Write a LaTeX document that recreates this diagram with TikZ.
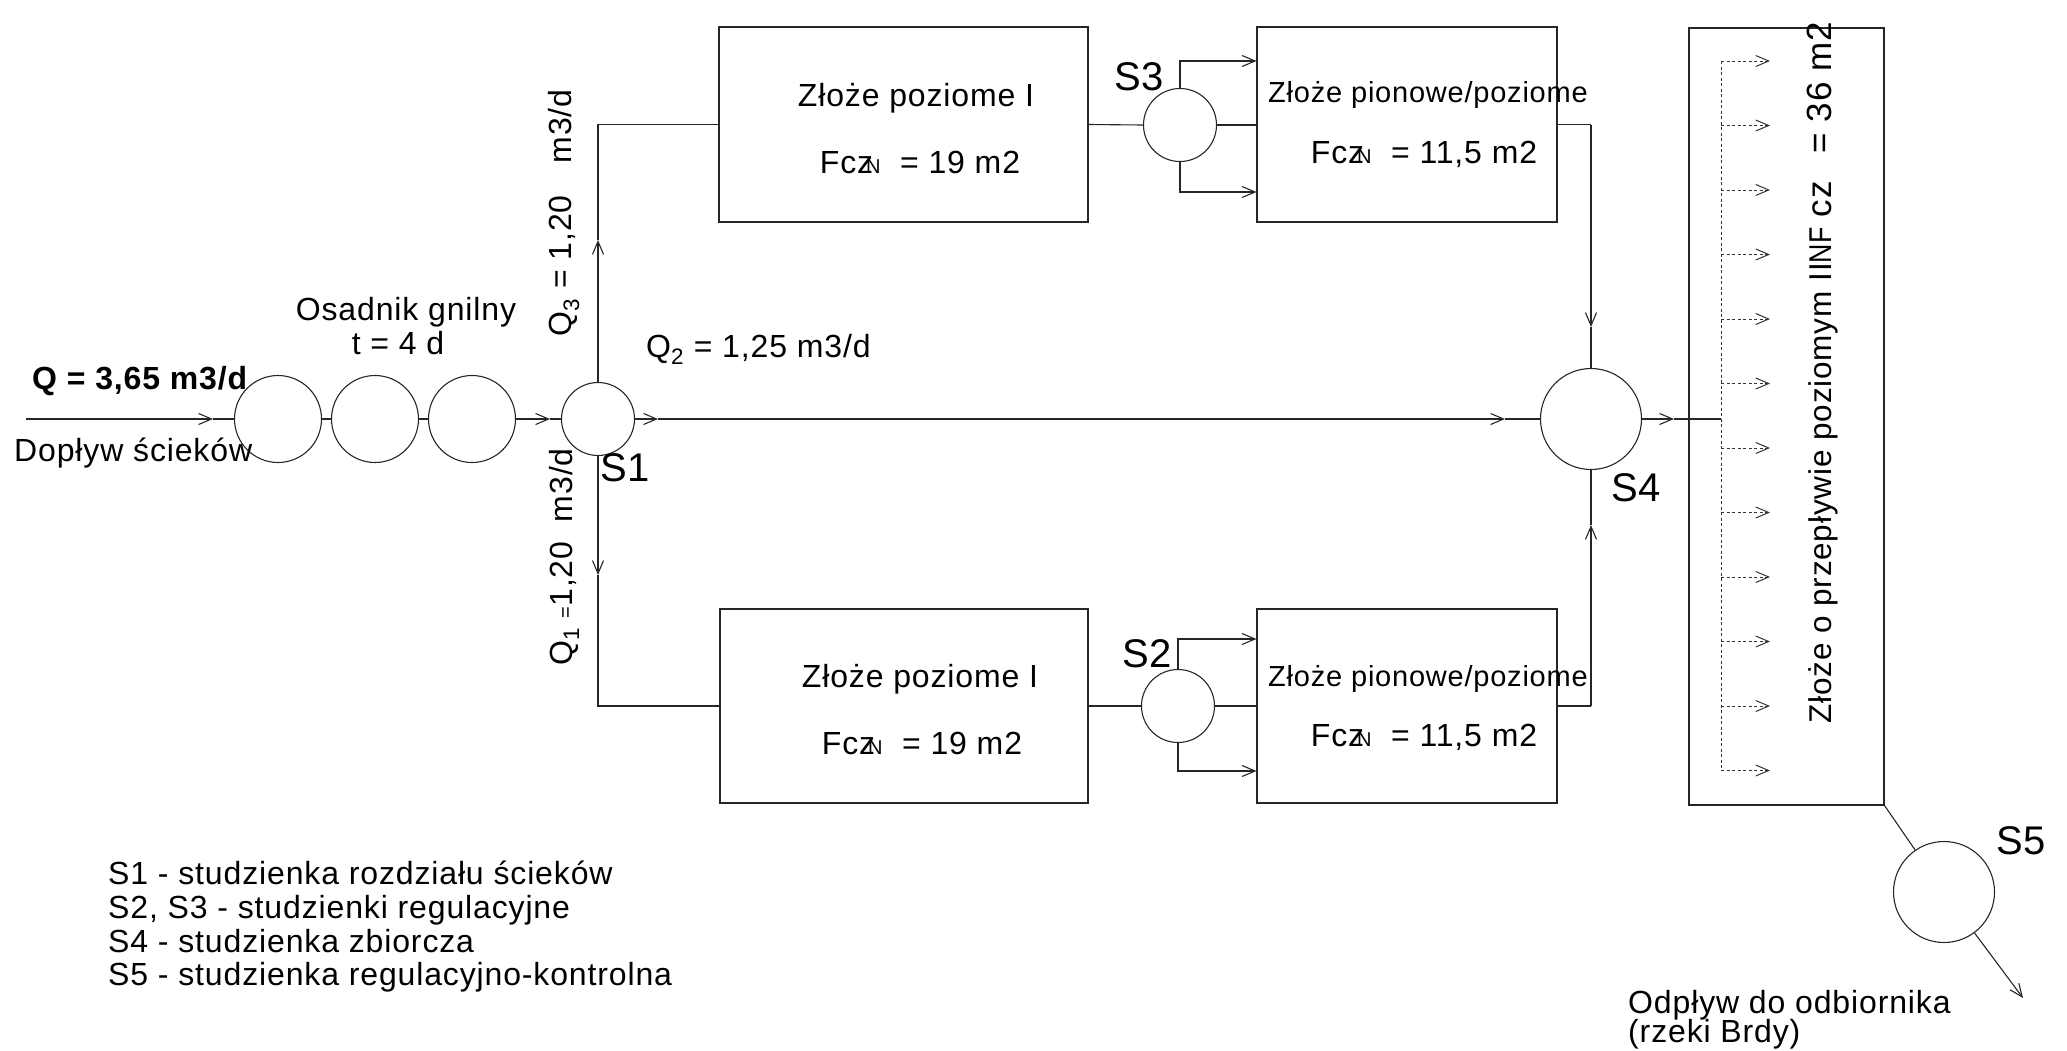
\documentclass[tikz,border=0pt]{standalone}
\usepackage{fontspec}
\usepackage{graphicx}
\setmainfont{Liberation Sans}[LetterSpace=2.7]
\usetikzlibrary{arrows.meta}
\newcommand\fczn{Fcz\hspace{-0.22em}{\fontsize{20}{20}\selectfont N}}
\begin{document}
\begin{tikzpicture}[x=1pt,y=-1pt,
  ln/.style={line width=1.1pt, draw=black!85},
  arr/.style={ln, -{Straight Barb[length=13pt,width=11pt,line width=1.1pt]}},
  dot/.style={line width=1pt, draw=black!80, dash pattern=on 3pt off 2.5pt},
  darr/.style={dot, -{Straight Barb[length=13pt,width=11pt,line width=1pt]}},
  tank/.style={circle, draw=black!85, line width=1.1pt, inner sep=0pt},
  box/.style={rectangle, draw=black!85, line width=1.1pt, inner sep=0pt},
  txt/.style={font=\fontsize{32}{34}\selectfont, inner sep=0pt},
  txtb/.style={font=\fontsize{29}{34}\selectfont, inner sep=0pt},
  txtv/.style={font=\fontsize{31.5}{34}\selectfont, inner sep=0pt},
  lab/.style={font=\fontsize{40}{40}\selectfont, inner sep=0pt}
]
\useasboundingbox (0,0) rectangle (2067,1050);

% wells and tanks
\node[tank, minimum size=87pt] (c1) at (278,419) {};
\node[tank, minimum size=87pt] (c2) at (375,419) {};
\node[tank, minimum size=87pt] (c3) at (472,419) {};
\node[tank, minimum size=73pt] (s1) at (598,419) {};
\node[tank, minimum size=73pt] (s3) at (1180,125) {};
\node[tank, minimum size=73pt] (s2) at (1178,706) {};
\node[tank, minimum size=101pt] (s4) at (1591,419) {};
\node[tank, minimum size=101pt] (s5) at (1944,892) {};

% beds
\node[box, minimum width=369pt, minimum height=195pt] (b1) at (903.5,124.5) {};
\node[box, minimum width=368pt, minimum height=194pt] (b2) at (904,706) {};
\node[box, minimum width=300pt, minimum height=195pt] (b3) at (1407,124.5) {};
\node[box, minimum width=300pt, minimum height=194pt] (b4) at (1407,706) {};
\node[box, minimum width=195pt, minimum height=777pt] (big) at (1786.5,416.5) {};

% inflow
\coordinate (in0) at (26,419);
\coordinate (inA) at (213,419);
\draw[arr] (in0) -- (inA);
\draw[ln] (inA) -- (c1);
\draw[ln] (c1) -- (c2);
\draw[ln] (c2) -- (c3);
\coordinate (a1) at (550,419);
\draw[arr] (c3) -- (a1);
\draw[ln] (a1) -- (s1);

% upper branch
\coordinate (u1) at (598,240);
\coordinate (u2) at (598,124.5);
\draw[arr] (s1) -- (u1);
\draw[ln] (u1) -- (u2) -- (b1.west);
% lower branch
\coordinate (d1) at (598,575);
\coordinate (d2) at (598,706);
\draw[arr] (s1) -- (d1);
\draw[ln] (d1) -- (d2) -- (b2.west);

% middle
\coordinate (m1) at (658,419);
\coordinate (m2) at (1505,419);
\draw[arr] (s1) -- (m1);
\draw[arr] (m1) -- (m2);
\draw[ln] (m2) -- (s4);

% S3 regulation
\draw[ln] (b1.east) -- (s3.west);
\draw[ln] (s3.east) -- (s3.east -| b3.west);
\coordinate (s3t) at (1180,61);
\coordinate (s3b) at (1180,192);
\draw[arr] (s3.north) -- (s3t) -- (s3t -| b3.west);
\draw[arr] (s3.south) -- (s3b) -- (s3b -| b3.west);
% S2 regulation
\draw[ln] (b2.east) -- (s2.west);
\draw[ln] (s2.east) -- (s2.east -| b4.west);
\coordinate (s2t) at (1178,639);
\coordinate (s2b) at (1178,771);
\draw[arr] (s2.north) -- (s2t) -- (s2t -| b4.west);
\draw[arr] (s2.south) -- (s2b) -- (s2b -| b4.west);

% to S4
\coordinate (r1) at (1591,124.5);
\coordinate (r2) at (1591,327);
\draw[ln] (b3.east) -- (r1);
\draw[arr] (r1) -- (r2);
\draw[ln] (r2) -- (s4);
\coordinate (r3) at (1591,706);
\coordinate (r4) at (1591,525);
\draw[ln] (b4.east) -- (r3);
\draw[arr] (r3) -- (r4);
\draw[ln] (r4) -- (s4);

% into final bed
\coordinate (e1) at (1674,419);
\coordinate (e2) at (1721,419);
\draw[arr] (s4) -- (e1);
\draw[ln] (e1) -- (e2);
\coordinate (dtop) at (1721,61);
\coordinate (dbot) at (1721,770.5);
\draw[dot] (dtop) -- (dbot);
\foreach \k in {0,...,11} {
  \draw[darr] (1721,61+64.5*\k) -- (1770,61+64.5*\k);
}

% outflow
\draw[ln] (big.south east) -- (s5);
\coordinate (o1) at (2023,998);
\draw[arr] (s5) -- (o1);

% texts
\node[txt, font=\bfseries\fontsize{32}{34}\selectfont, anchor=west] (qin) at (32,381) {Q = 3,65 m3/d};
\node[txt, anchor=west] (dop) at (14,453) {Dopływ ścieków};
\node[txt] (osa) at (406,312) {Osadnik gnilny};
\node[txt] (t4) at (398,343) {t = 4 d};
\node[txt, anchor=west] (q2) at (646,349) {Q\textsubscript{2} = 1,25 m3/d};
\node[txt, rotate=90] (q3) at (564,213) {Q\textsubscript{3} = 1,20\hspace{1.0em}m3/d};
\node[txt, rotate=90] (q1) at (564,557) {Q\textsubscript{1} {\fontsize{20}{20}\selectfont =}1,20\ \ m3/d};

\node[lab] (l1) at (625,468) {S1};
\node[lab] (l3) at (1139,77) {S3};
\node[lab] (l2) at (1147,654) {S2};
\node[lab] (l4) at (1636,488) {S4};
\node[lab] (l5) at (2021,841) {S5};

\node[txt] (t1a) at (916,98) {Złoże poziome I};
\node[txt] (t1b) at (920,162) {\fczn\ \ = 19 m2};
\node[txt] (t2a) at (920,679) {Złoże poziome I};
\node[txt] (t2b) at (922,743) {\fczn\ \ = 19 m2};
\node[txtb] (t3a) at (1428,95) {Złoże pionowe/poziome};
\node[txt] (t3b) at (1424,154) {\fczn\ \ = 11,5 m2};
\node[txtb] (t4a) at (1428,679) {Złoże pionowe/poziome};
\node[txt] (t4b) at (1424,737) {\fczn\ \ = 11,5 m2};

\node[txtv, rotate=90, anchor=west] (vt) at (1823,724) {Złoże o przepływie poziomym II\scalebox{0.85}[1]{NF} {\fontsize{35}{34}\selectfont cz\hspace{28pt}= 36 m2}};

\node[txt, anchor=base west] (od1) at (1628,1013) {Odpływ do odbiornika};
\node[txt, anchor=base west] (od2) at (1628,1042) {(rzeki Brdy)};

\node[txt, anchor=base west] (lg1) at (108,884) {S1 - studzienka rozdziału ścieków};
\node[txt, anchor=base west] (lg2) at (108,918) {S2, S3 - studzienki regulacyjne};
\node[txt, anchor=base west] (lg3) at (108,952) {S4 - studzienka zbiorcza};
\node[txt, anchor=base west] (lg4) at (108,985) {S5 - studzienka regulacyjno-kontrolna};
\end{tikzpicture}
\end{document}
